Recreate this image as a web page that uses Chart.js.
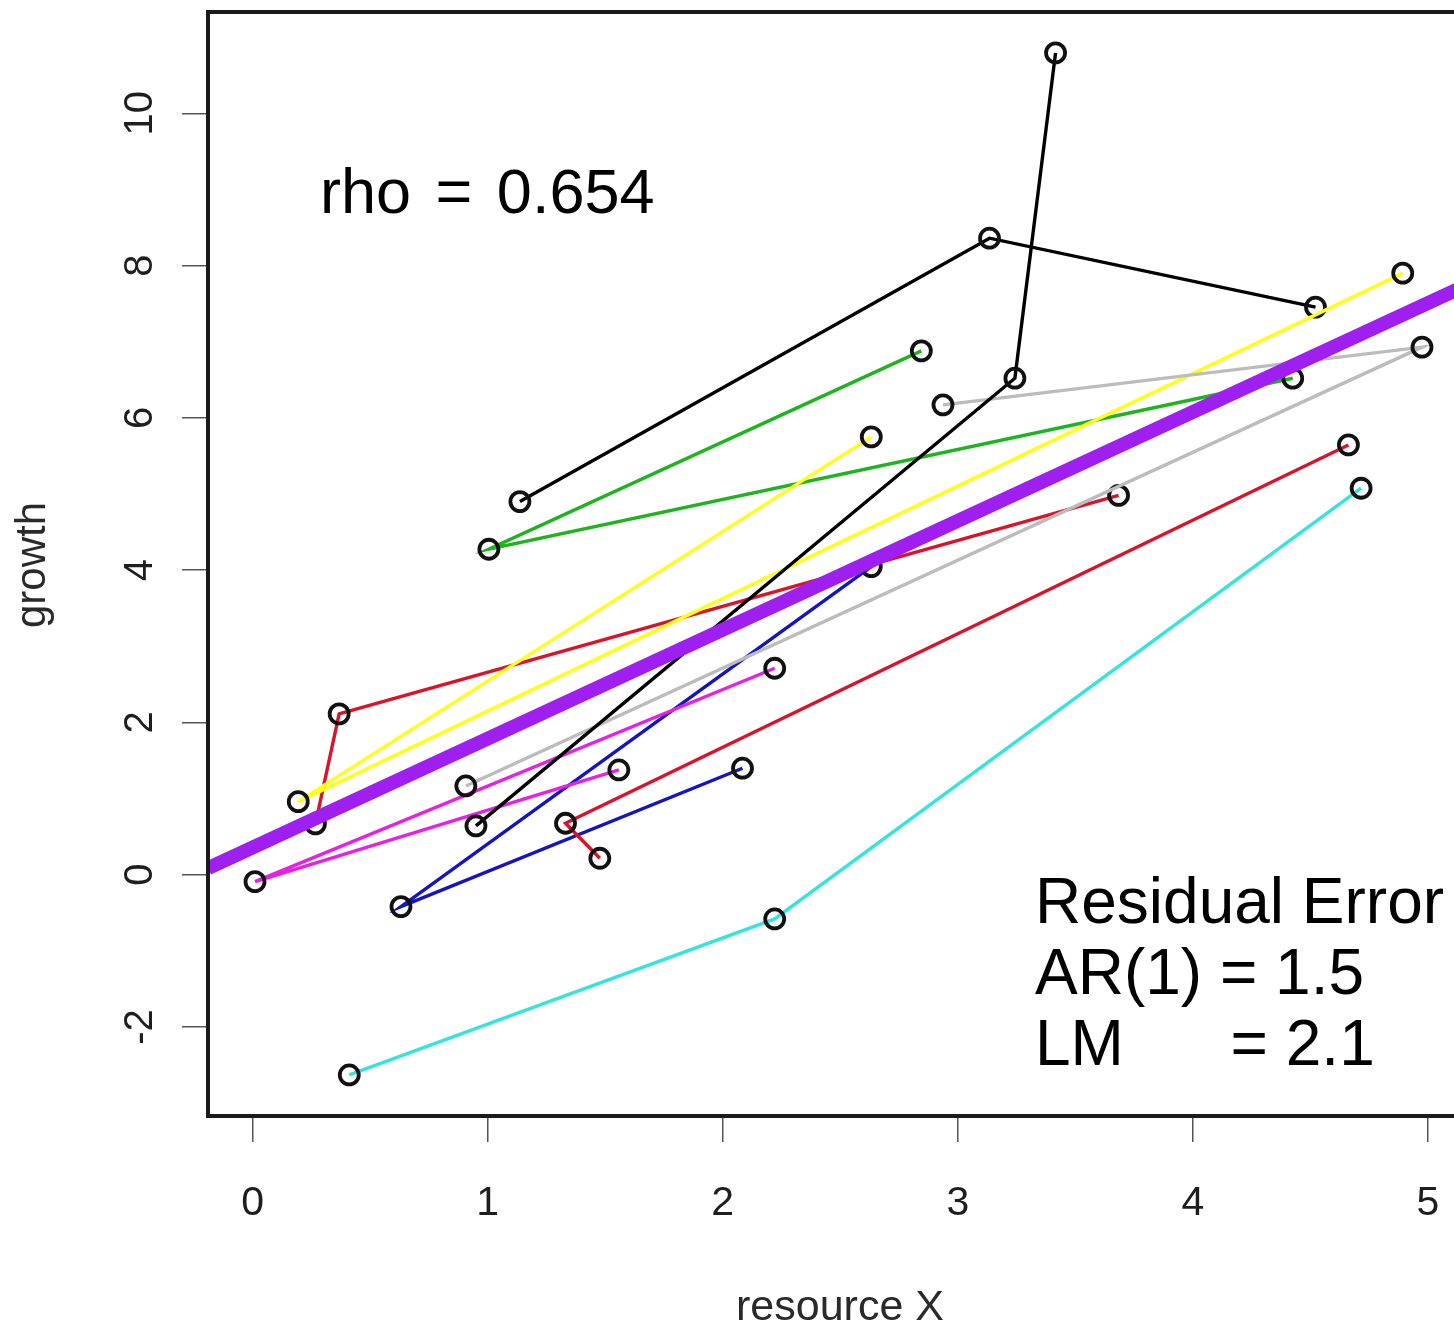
<!DOCTYPE html>
<html><head><meta charset="utf-8">
<script src="https://cdn.jsdelivr.net/npm/chart.js@4.4.1/dist/chart.umd.min.js"></script>
<style>
html,body{margin:0;padding:0;background:#fff;overflow:hidden;width:1454px;height:1325px;}
#c{position:absolute;left:0;top:0;width:1472px;height:1325px;}
</style></head><body>
<canvas id="c" width="1472" height="1325"></canvas>
<script>
// ---- tick values / labels ----
const xTickValues = [0, 1, 2, 3, 4, 5];
const xTickLabels = ['0', '1', '2', '3', '4', '5'];
const yTickValues = [-2, 0, 2, 4, 6, 8, 10];
const yTickLabels = ['-2', '0', '2', '4', '6', '8', '10'];

// ---- series (x, y) ----
const blackAX   = [1.137, 3.135, 4.522];
const blackAY   = [4.900, 8.359, 7.453];
const redAX     = [0.267, 0.368, 3.684];
const redAY     = [0.666, 2.111, 4.981];
const greenX    = [2.845, 1.005, 4.425];
const greenY    = [6.879, 4.274, 6.520];
const blueX     = [2.084, 0.631, 2.632];
const blueY     = [1.398, -0.420, 4.046];
const cyanX     = [0.411, 2.221, 4.716];
const cyanY     = [-2.631, -0.582, 5.075];
const magentaX  = [2.221, 0.010, 1.558];
const magentaY  = [2.711, -0.092, 1.375];
const yellowX   = [2.632, 0.194, 4.893];
const yellowY   = [5.749, 0.959, 7.900];
const grayX     = [2.937, 4.975, 0.907];
const grayY     = [6.170, 6.928, 1.165];
const blackBX   = [0.950, 3.243, 3.416];
const blackBY   = [0.640, 6.520, 10.793];
const redBX     = [1.477, 1.331, 4.662];
const redBY     = [0.215, 0.675, 5.644];

// fitted line, read at the two plot edges
const fitX = [-0.19, 5.175];
const fitY = [0.085, 7.757];

// texts
const rhoText = 'rho = 0.654';
const residualLines = ['Residual Error', 'AR(1) = 1.5', 'LM      = 2.1'];
const xTitle = 'resource X';
const yTitle = 'growth';

// ---- styling (separate from data) ----
const seriesList = [
  [blackAX, blackAY, '#000000'],
  [redAX, redAY, '#d9142a'],
  [greenX, greenY, '#1fb41f'],
  [blueX, blueY, '#1414c0'],
  [cyanX, cyanY, '#36e4de'],
  [magentaX, magentaY, '#e620e6'],
  [yellowX, yellowY, '#ffff1a'],
  [grayX, grayY, '#bcbcbc'],
  [blackBX, blackBY, '#000000'],
  [redBX, redBY, '#d9142a']
];
const FONT = '"Liberation Sans", Arial, Helvetica, sans-serif';

const toPts = (xs, ys) => xs.map((x, i) => ({x: x, y: ys[i]}));

const datasets = seriesList.map((s, i) => ({
  data: toPts(s[0], s[1]),
  showLine: true,
  borderColor: s[2],
  borderWidth: 3.4,
  tension: 0,
  pointRadius: 9.5,
  pointBorderWidth: 3.8,
  pointBorderColor: '#111',
  pointBackgroundColor: 'rgba(0,0,0,0)',
  pointHoverRadius: 9.5,
  order: seriesList.length - i
}));
datasets.push({
  data: toPts(fitX, fitY),
  showLine: true,
  borderColor: '#9f1ff0',
  borderWidth: 14,
  pointRadius: 0,
  tension: 0,
  clip: 0,
  order: 0
});

const decor = {
  id: 'decor',
  afterDraw(chart) {
    const ctx = chart.ctx;
    const a = chart.chartArea;
    const xs = chart.scales.x, ys = chart.scales.y;
    ctx.save();
    // box
    ctx.strokeStyle = '#1a1a1a';
    ctx.lineWidth = 4;
    ctx.strokeRect(a.left, a.top, a.right - a.left, a.bottom - a.top);
    // x tick labels
    ctx.fillStyle = '#1e1e1e';
    ctx.font = '41px ' + FONT;
    ctx.textAlign = 'center';
    ctx.textBaseline = 'alphabetic';
    xTickValues.forEach((v, i) => {
      ctx.fillText(xTickLabels[i], xs.getPixelForValue(v), 1215);
    });
    // y tick labels (rotated)
    ctx.font = '40px ' + FONT;
    yTickValues.forEach((v, i) => {
      ctx.save();
      ctx.translate(152, ys.getPixelForValue(v));
      ctx.rotate(-Math.PI / 2);
      ctx.fillText(yTickLabels[i], 0, 0);
      ctx.restore();
    });
    // axis titles
    ctx.fillStyle = '#2a2a2a';
    ctx.font = '43px ' + FONT;
    ctx.fillText(xTitle, 840, 1320);
    ctx.save();
    ctx.translate(45, 565);
    ctx.rotate(-Math.PI / 2);
    ctx.font = '42px ' + FONT;
    ctx.fillText(yTitle, 0, 0);
    ctx.restore();
    // annotations
    ctx.fillStyle = '#000';
    ctx.textAlign = 'left';
    ctx.font = '63px ' + FONT;
    if ('wordSpacing' in ctx) ctx.wordSpacing = '7px';
    ctx.fillText(rhoText, 320, 213);
    if ('wordSpacing' in ctx) ctx.wordSpacing = '0px';
    ctx.font = '64px ' + FONT;
    residualLines.forEach((t, i) => ctx.fillText(t, 1035, 923 + i * 71));
    ctx.restore();
  }
};

new Chart(document.getElementById('c'), {
  type: 'scatter',
  data: { datasets: datasets },
  options: {
    responsive: false,
    maintainAspectRatio: false,
    devicePixelRatio: 1,
    animation: false,
    events: [],
    layout: { autoPadding: false, padding: { left: 0, top: 12, right: 3, bottom: 0 } },
    plugins: { legend: { display: false }, tooltip: { enabled: false } },
    scales: {
      x: {
        type: 'linear',
        min: -0.19, max: 5.175,
        afterBuildTicks: s => { s.ticks = xTickValues.map(v => ({value: v})); },
        afterFit: s => { s.height = 209; },
        ticks: { display: false },
        border: { display: false },
        grid: { display: true, drawOnChartArea: false, drawTicks: true, tickLength: 26, color: '#555', lineWidth: 1.5 }
      },
      y: {
        type: 'linear',
        min: -3.17, max: 11.33,
        afterBuildTicks: s => { s.ticks = yTickValues.map(v => ({value: v})); },
        afterFit: s => { s.width = 208; },
        ticks: { display: false },
        border: { display: false },
        grid: { display: true, drawOnChartArea: false, drawTicks: true, tickLength: 26, color: '#555', lineWidth: 1.5 }
      }
    }
  },
  plugins: [decor]
});
</script>
</body></html>
